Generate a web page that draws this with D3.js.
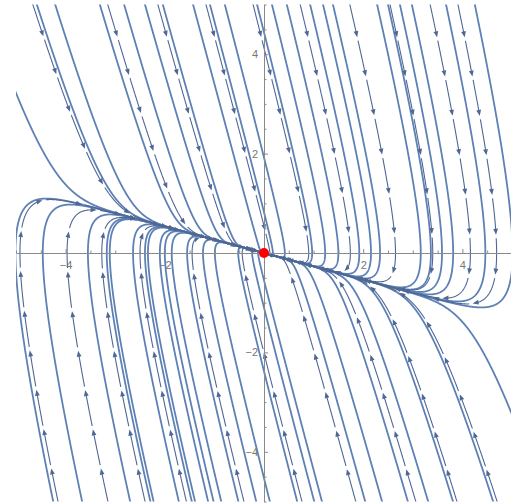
<!DOCTYPE html>
<html>
<head>
<meta charset="utf-8">
<script src="https://cdn.jsdelivr.net/npm/d3@7"></script>
<style>
  html, body { margin: 0; padding: 0; background: #fff; }
  svg { display: block; }
</style>
</head>
<body>
<svg id="chart" width="511" height="503"></svg>
<script>
// Phase portrait of the overdamped oscillator x'' + 4x' + x = 0,
// written as the system  x' = y,  y' = -x - 4y  (stable node at the origin).
const rowX = [0, 1];     // x' = rowX[0]*x + rowX[1]*y
const rowY = [-1, -4];   // y' = rowY[0]*x + rowY[1]*y

const xDomain = [-5, 5];
const yDomain = [-5, 5];
const majorTicks = [-4, -2, 2, 4];
const minorTicks = [-5, -4.5, -4, -3.5, -3, -2.5, -2, -1.5, -1, -0.5, 0.5, 1, 1.5, 2, 2.5, 3, 3.5, 4, 4.5, 5];

// Solid solution curves: where each one enters the window or crosses y = 0
const curveTopX    = [-4.58, -4.21, -3.31, -2.82, -2.40, -2.04, -1.43, -1.09, -0.79, -0.14,
                      0.16, 0.46, 0.93, 1.19, 1.39, 2.28, 2.50, 2.74, 2.98, 3.67, 4.25];
const curveAxisX   = [-4.46, -3.55, -3.17, -3.11, -2.64, -2.40, -2.34, -2.10, -2.00, -1.86,
                      -1.55, -1.23, -0.99, -0.52, -0.24, -0.12];
const curveBottomX = [-4.25, 2.04, 2.38, 2.90, 3.31, 3.81, 4.62];
const curveLeftY   = [3.22];
const curveRightY  = [-3.25];

// Arrowed stream lines
const arrowTopX    = [-4.66, -3.15, -2.14, -1.17, -0.22, 0.73, 1.73, 2.54, 3.35, 3.91];
const arrowAxisX   = [-4.92, -3.97, -3.27, -2.50, -1.45, -0.44];
const arrowBottomX = [1.85, 3.06, 3.89, 4.70];

const equilibrium = [[0, 0]];

const svg = d3.select("#chart");
const x = d3.scaleLinear().domain(xDomain).range([16, 512]);
const y = d3.scaleLinear().domain(yDomain).range([501.5, 4.5]);

svg.append("defs").append("clipPath").attr("id", "plotArea")
  .append("rect")
  .attr("x", x(xDomain[0])).attr("y", y(yDomain[1]))
  .attr("width", x(xDomain[1]) - x(xDomain[0]))
  .attr("height", y(yDomain[0]) - y(yDomain[1]));

// ---- vector field and streamline tracing ----
function field(p) {
  return [rowX[0] * p[0] + rowX[1] * p[1], rowY[0] * p[0] + rowY[1] * p[1]];
}
function unit(v) {
  const n = Math.hypot(v[0], v[1]) || 1;
  return [v[0] / n, v[1] / n];
}
function trace(seed, sgn) {
  const pts = [seed.slice()];
  let p = seed.slice();
  const h = 0.01 * sgn;
  for (let i = 0; i < 6000; i++) {
    const k1 = unit(field(p));
    const k2 = unit(field([p[0] + h / 2 * k1[0], p[1] + h / 2 * k1[1]]));
    const k3 = unit(field([p[0] + h / 2 * k2[0], p[1] + h / 2 * k2[1]]));
    const k4 = unit(field([p[0] + h * k3[0], p[1] + h * k3[1]]));
    p = [p[0] + h / 6 * (k1[0] + 2 * k2[0] + 2 * k3[0] + k4[0]),
         p[1] + h / 6 * (k1[1] + 2 * k2[1] + 2 * k3[1] + k4[1])];
    pts.push(p);
    if (p[0] < xDomain[0] - 0.05 || p[0] > xDomain[1] + 0.05 ||
        p[1] < yDomain[0] - 0.05 || p[1] > yDomain[1] + 0.05) break;
    if (Math.hypot(p[0], p[1]) < 0.015) { pts.push([0, 0]); break; }
  }
  return pts;
}
function streamline(seed) {
  const back = trace(seed, -1).reverse();
  const fwd = trace(seed, 1);
  return back.concat(fwd.slice(1));
}
function seedsFrom(topX, axisX, bottomX, leftY, rightY) {
  return [
    ...topX.map(v => [v, yDomain[1]]),
    ...axisX.map(v => [v, 0]),
    ...bottomX.map(v => [v, yDomain[0]]),
    ...leftY.map(v => [xDomain[0], v]),
    ...rightY.map(v => [xDomain[1], v])
  ];
}

const curves = seedsFrom(curveTopX, curveAxisX, curveBottomX, curveLeftY, curveRightY).map(streamline);
const arrowLines = seedsFrom(arrowTopX, arrowAxisX, arrowBottomX, [], []).map(streamline);

const line = d3.line().x(d => x(d[0])).y(d => y(d[1]));
const plot = svg.append("g").attr("clip-path", "url(#plotArea)");

// solid curves
plot.append("g")
  .selectAll("path").data(curves).join("path")
  .attr("d", line)
  .attr("fill", "none")
  .attr("stroke", "#5e81b5")
  .attr("stroke-width", 1.8)
  .attr("stroke-linejoin", "round");

// arrowed stream lines: short arrows laid end to end along each line
const period = 40, gap = 3.5, headLen = 6, headHalf = 2.4;
function arrowPieces(pts) {
  const px = pts.map(d => [x(d[0]), y(d[1])]);
  const cum = [0];
  for (let i = 1; i < px.length; i++) {
    cum.push(cum[i - 1] + Math.hypot(px[i][0] - px[i - 1][0], px[i][1] - px[i - 1][1]));
  }
  const total = cum[cum.length - 1];
  function at(s) {
    let i = d3.bisectLeft(cum, s);
    i = Math.max(1, Math.min(px.length - 1, i));
    const t = (s - cum[i - 1]) / ((cum[i] - cum[i - 1]) || 1);
    const a = px[i - 1], b = px[i];
    const dir = unit([b[0] - a[0], b[1] - a[1]]);
    return { p: [a[0] + (b[0] - a[0]) * t, a[1] + (b[1] - a[1]) * t], dir };
  }
  function slice(s0, s1) {
    const out = [at(s0).p];
    for (let i = 0; i < px.length; i++) if (cum[i] > s0 && cum[i] < s1) out.push(px[i]);
    out.push(at(s1).p);
    return out;
  }
  const segs = [], heads = [];
  for (let s = 0; s < total; s += period) {
    const tipS = s + period - gap;
    if (tipS <= total) {
      segs.push(slice(s, tipS - headLen + 1));
      const tip = at(tipS);
      const base = at(tipS - headLen).p;
      const nx = -tip.dir[1], ny = tip.dir[0];
      heads.push([tip.p,
        [base[0] + nx * headHalf, base[1] + ny * headHalf],
        [base[0] - nx * headHalf, base[1] - ny * headHalf]]);
    } else {
      segs.push(slice(s, total));
    }
  }
  return { segs, heads };
}
const pieces = arrowLines.map(arrowPieces);
const arrowG = plot.append("g");
arrowG.selectAll("path.seg")
  .data(pieces.flatMap(d => d.segs)).join("path")
  .attr("class", "seg")
  .attr("d", d => "M" + d.map(q => q[0].toFixed(2) + "," + q[1].toFixed(2)).join("L"))
  .attr("fill", "none")
  .attr("stroke", "#4f6794")
  .attr("stroke-width", 1.1);
arrowG.selectAll("path.head")
  .data(pieces.flatMap(d => d.heads)).join("path")
  .attr("class", "head")
  .attr("d", d => "M" + d.map(q => q[0].toFixed(2) + "," + q[1].toFixed(2)).join("L") + "Z")
  .attr("fill", "#4f6794")
  .attr("stroke", "none");

// ---- axes through the origin ----
const axisColor = "#8a8a8a";
const gx = svg.append("g").attr("transform", `translate(0,${y(0)})`);
gx.call(d3.axisBottom(x).tickValues(minorTicks).tickSizeInner(-2.5).tickSizeOuter(0).tickFormat(""));
gx.call(g => g.selectAll(".tick").filter(d => majorTicks.includes(d)).remove());
const gxMajor = svg.append("g").attr("transform", `translate(0,${y(0)})`)
  .call(d3.axisBottom(x).tickValues(majorTicks).tickSizeInner(-4).tickSizeOuter(0).tickPadding(8));
gxMajor.select(".domain").remove();

const gy = svg.append("g").attr("transform", `translate(${x(0)},0)`);
gy.call(d3.axisLeft(y).tickValues(minorTicks).tickSizeInner(-2.5).tickSizeOuter(0).tickFormat(""));
gy.call(g => g.selectAll(".tick").filter(d => majorTicks.includes(d)).remove());
const gyMajor = svg.append("g").attr("transform", `translate(${x(0)},0)`)
  .call(d3.axisLeft(y).tickValues(majorTicks).tickSizeInner(-4).tickSizeOuter(0).tickPadding(6));
gyMajor.select(".domain").remove();

[gx, gxMajor, gy, gyMajor].forEach(g => {
  g.selectAll(".domain, .tick line").attr("stroke", axisColor).attr("stroke-width", 1);
  g.selectAll("text")
    .attr("fill", "#777")
    .attr("font-family", "'Liberation Sans', Arial, sans-serif")
    .attr("font-size", 11);
});

// equilibrium point
svg.append("g").selectAll("circle").data(equilibrium).join("circle")
  .attr("cx", d => x(d[0])).attr("cy", d => y(d[1]))
  .attr("r", 5).attr("fill", "#ff0000");
</script>
</body>
</html>
